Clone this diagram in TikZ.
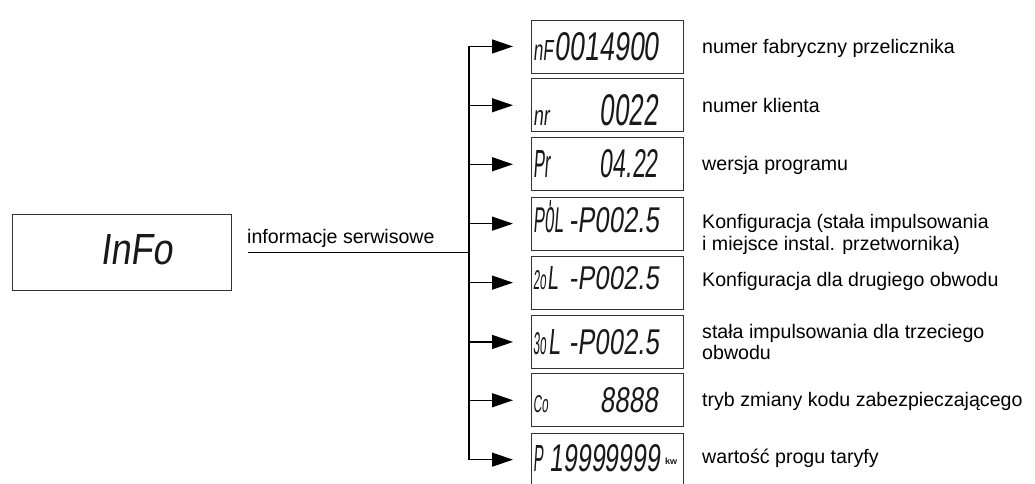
\documentclass[tikz,border=0pt]{standalone}
\usepackage{fontspec}
\setmainfont{Liberation Sans}
\newfontfamily\lcdf[FakeStretch=0.6,FakeSlant=0.1]{Liberation Sans}
\usetikzlibrary{arrows.meta}
\newcommand\lcdtxt[3]{\resizebox{#1pt}{#2pt}{\lcdf #3}}
\tikzset{
  lcdbox/.style={draw=black!80, line width=0.9pt, minimum width=152pt, minimum height=53pt, anchor=north west, inner sep=0},
  desc/.style={anchor=base west, inner sep=0, font=\fontsize{19.6}{22}\selectfont},
  segl/.style={anchor=base west, inner sep=0, text=black!90},
  segr/.style={anchor=base east, inner sep=0, text=black!90},
  arr/.style={line width=1.3pt, -{Triangle[length=21pt,width=14pt]}, shorten >=18pt},
  trunk/.style={line width=1.3pt},
}
\begin{document}
\begin{tikzpicture}[x=1pt,y=-1pt]
\useasboundingbox (0,0) rectangle (1035,483);
\fill[white] (0,0) rectangle (1035,483);

% source display
\node[draw=black!80, line width=0.9pt, minimum width=219pt, minimum height=76pt, anchor=north west, inner sep=0] (info) at (12,214) {};
\node[segl] (infotxt) at (100,264) {\lcdtxt{72}{30}{InFo}};
\node[anchor=base west, inner sep=0, font=\fontsize{19.6}{22}\selectfont] (infolab) at (247,243) {informacje serwisowe};

% target displays
\node[lcdbox] (lcd1) at (531,19.5) {};
\node[lcdbox] (lcd2) at (531,78.3) {};
\node[lcdbox] (lcd3) at (531,137.3) {};
\node[lcdbox] (lcd4) at (531,196.7) {};
\node[lcdbox] (lcd5) at (531,255.7) {};
\node[lcdbox] (lcd6) at (531,315) {};
\node[lcdbox] (lcd7) at (531,373.3) {};
\node[lcdbox] (lcd8) at (531,432.7) {};

% display contents
\node[segl] (p1) at (533,60) {\lcdtxt{20}{20}{nF}};
\node[segr] (v1) at (659,60) {\lcdtxt{104}{28}{0014900}};
\node[segl] (p2) at (533,125) {\lcdtxt{16}{15}{nr}};
\node[segr] (v2) at (658,125) {\lcdtxt{58}{31}{0022}};
\node[segl] (p3) at (533,177) {\lcdtxt{17}{27}{Pr}};
\node[segr] (v3) at (658,177) {\lcdtxt{58}{28}{04.22}};
\node[segl] (p4) at (533,232) {\lcdtxt{30}{25}{P0L}};
\draw[line width=1.2pt, black!90] (550.5,200) -- (550,206.5);
\node[segr] (v4) at (659,232) {\lcdtxt{90}{25}{-P002.5}};
\node[segl] (p5) at (533,289) {\lcdtxt{13}{19}{2o}};
\node[segl] (q5) at (547,289) {\lcdtxt{11}{23}{L}};
\node[segr] (v5) at (659,289) {\lcdtxt{90}{23}{-P002.5}};
\node[segl] (p6) at (533,354) {\lcdtxt{13}{22}{3o}};
\node[segl] (q6) at (548,354) {\lcdtxt{12}{25}{L}};
\node[segr] (v6) at (659,354) {\lcdtxt{90}{25}{-P002.5}};
\node[segl] (p7) at (533,412) {\lcdtxt{15}{17}{Co}};
\node[segr] (v7) at (658,412) {\lcdtxt{58}{25}{8888}};
\node[segl] (p8) at (533,471) {\lcdtxt{10}{26}{P}};
\node[segr] (v8) at (660,471) {\lcdtxt{110}{27}{19999999}};
\node[segl] (u8) at (665,464) {\fontsize{9}{9}\selectfont\bfseries kw};

% descriptions
\node[desc] (d1) at (702,53) {numer fabryczny przelicznika};
\node[desc] (d2) at (702,112) {numer klienta};
\node[desc] (d3) at (702,170) {wersja programu};
\node[desc] (d4) at (702,228) {Konfiguracja (stała impulsowania};
\node[desc] (d4b) at (702,250) {i miejsce instal. przetwornika)};
\node[desc] (d5) at (702,286) {Konfiguracja dla drugiego obwodu};
\node[desc] (d6) at (702,338) {stała impulsowania dla trzeciego};
\node[desc] (d6b) at (702,359) {obwodu};
\node[desc] (d7) at (702,406) {tryb zmiany kodu zabezpieczającego};
\node[desc] (d8) at (702,463) {wartość progu taryfy};

% connectors
\coordinate (tx) at (469,0);
\draw[trunk, shorten <=16pt] (info.east) -- (tx |- info.east);
\draw[trunk] (tx |- lcd1.west) -- (tx |- lcd8.west);
\foreach \i in {1,...,8}{
  \draw[arr] (tx |- lcd\i.west) -- (lcd\i.west);
}
\end{tikzpicture}
\end{document}
